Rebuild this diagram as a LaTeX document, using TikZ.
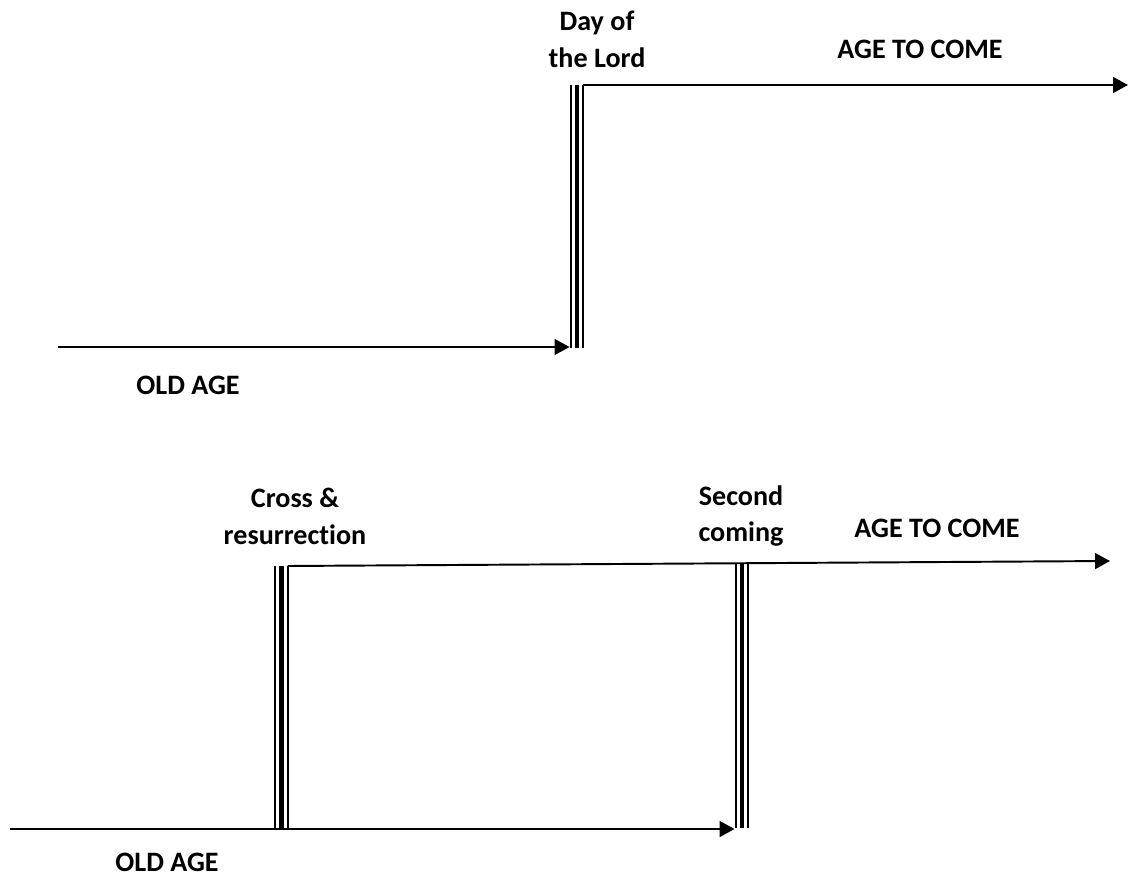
\documentclass[tikz,border=0pt]{standalone}
\usepackage{fontspec}
\setmainfont{Carlito}[Ligatures=NoCommon]
\usetikzlibrary{arrows.meta, positioning}
\tikzset{
  fleche/.style={-{Triangle[length=8.5pt, width=9pt]}, line width=1.1pt},
  ligne/.style={line width=1.1pt},
  barre/.style={line width=1.2pt},
  barrefort/.style={line width=2.6pt},
  etiquette/.style={font=\fontsize{16}{21}\selectfont\bfseries, align=center, inner sep=0pt}
}

\begin{document}
\begin{tikzpicture}[x=0.02cm, y=-0.02cm]
    \useasboundingbox (0,0) rectangle (1138,884);

    % Schema du haut
    \coordinate (haut1) at (577,85);
    \coordinate (bas1) at (577,348);
    \coordinate (dep1) at (58,347);
    \coordinate (fin1) at (1128,85);

    % Schema du bas
    \coordinate (haut2) at (281.5,566);
    \coordinate (bas2) at (281.5,828);
    \coordinate (haut3) at (742,563);
    \coordinate (bas3) at (742,828);
    \coordinate (dep2) at (10,829);
    \coordinate (fin2) at (1110,561);

    % Barres triples
    \foreach \b in {1,2,3} {
      \foreach \dx/\st in {-0.125cm/barre, 0cm/barrefort, 0.125cm/barre}
        \draw[\st] ([xshift=\dx]haut\b) -- ([xshift=\dx]bas\b);
    }

    % Fleches
    \draw[fleche] (dep1) -- ([xshift=-0.15cm]bas1 |- dep1);
    \draw[fleche] ([xshift=0.125cm]haut1) -- (fin1);
    \draw[fleche] (dep2) -- ([xshift=-0.15cm]bas3 |- dep2);
    \draw[fleche] ([xshift=0.125cm]haut2) -- (fin2);

    % Etiquettes
    \node[etiquette] (jour) at (597,39) {Day of\\the Lord};
    \node[etiquette] (avenir1) at (920,49) {AGE TO COME};
    \node[etiquette] (ancien1) at (188,385) {OLD AGE};
    \node[etiquette] (croix) at (295,516) {Cross \&\\resurrection};
    \node[etiquette] (retour) at (741,516) {Second\\coming};
    \node[etiquette] (avenir2) at (937,528) {AGE TO COME};
    \node[etiquette] (ancien2) at (167,862) {OLD AGE};
\end{tikzpicture}
\end{document}
